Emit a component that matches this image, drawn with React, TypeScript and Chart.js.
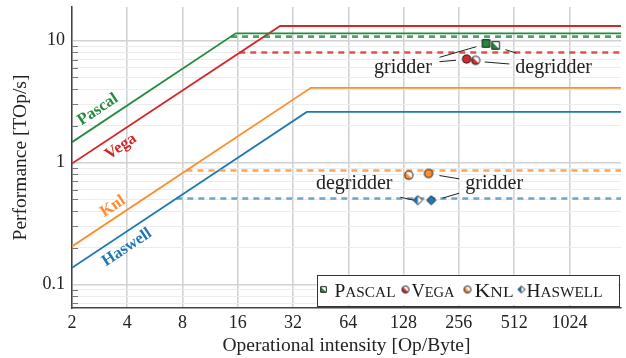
import React, { useEffect, useRef } from 'react';
import { Chart, registerables } from 'chart.js';
Chart.register(...registerables);

// ---- axis ticks ----
const xTicks = [2, 4, 8, 16, 32, 64, 128, 256, 512, 1024];
const xMin = 2;
const xMax = 1956;
const yMin = 0.064;
const yMax = 18.9;
const yMajor = [0.1, 1, 10];
const yMinor = [0.07, 0.08, 0.09, 0.2, 0.3, 0.4, 0.5, 0.6, 0.7, 0.8, 0.9, 2, 3, 4, 5, 6, 7, 8, 9];

// ---- platforms ----
const platforms = ['Pascal', 'Vega', 'Knl', 'Haswell'];
const colors = ['#238b3c', '#d62728', '#ff8c2e', '#1f77b4'];
const dashColors = ['rgba(35,139,60,0.8)', 'rgba(214,39,40,0.8)', 'rgba(255,140,46,0.8)', 'rgba(31,119,180,0.65)'];

// roofline vertices (x = Op/Byte, y = TOp/s)
const pascalRoofX = [2, 15.6, 1956];
const pascalRoofY = [1.47, 11.5, 11.5];
const vegaRoofX = [2, 27.2, 1956];
const vegaRoofY = [0.98, 13.2, 13.2];
const knlRoofX = [2, 40, 1956];
const knlRoofY = [0.205, 4.1, 4.1];
const haswellRoofX = [2, 38, 1956];
const haswellRoofY = [0.137, 2.6, 2.6];

// dashed attainable ceilings
const pascalDashX = [14.7, 1956];
const pascalDashY = [10.8, 10.8];
const vegaDashX = [16.3, 1956];
const vegaDashY = [8.0, 8.0];
const knlDashX = [8.4, 1956];
const knlDashY = [0.86, 0.86];
const haswellDashX = [7.4, 1956];
const haswellDashY = [0.507, 0.507];

// measured kernels
const gridderX = [360, 282, 175, 181];
const gridderY = [9.5, 7.08, 0.813, 0.491];
const degridderX = [406, 316, 136.5, 153];
const degridderY = [9.15, 6.9, 0.787, 0.491];

// annotation texts
const annText = ['gridder', 'degridder', 'degridder', 'gridder'];
const annX = [127, 840, 68.9, 399];
const annY = [6.0, 6.0, 0.669, 0.669];

// leader lines
const leaderX = [[200.7, 319], [200.7, 246.7], [353.6, 482], [459, 524], [123, 145.3], [200.7, 257], [208.4, 257]];
const leaderY = [[7.3, 8.93], [6.73, 6.9], [6.69, 6.44], [8.44, 7.93], [0.519, 0.491], [0.782, 0.735], [0.51, 0.56]];

// roofline labels
const roofLabelX = [2.77, 3.69, 3.34, 3.98];
const roofLabelY = [2.72, 1.35, 0.436, 0.2008];

const shapes = ['rect', 'circle', 'circle', 'diamond'];

const SERIF = '"Liberation Serif", "Times New Roman", serif';

// legend layout (pixel offsets inside the legend box)
const legendMarkerOff = [7, 89, 151, 205];
const legendTextOff = [18, 95, 158, 210];
const legendTextW = [61, 43, 39, 76];

function shapePath(g: CanvasRenderingContext2D, shape: string, cx: number, cy: number, h: number) {
  g.beginPath();
  if (shape === 'rect') g.rect(cx - h, cy - h, 2 * h, 2 * h);
  else if (shape === 'circle') g.arc(cx, cy, h, 0, Math.PI * 2);
  else {
    g.moveTo(cx, cy - h);
    g.lineTo(cx + h, cy);
    g.lineTo(cx, cy + h);
    g.lineTo(cx - h, cy);
    g.closePath();
  }
}

function makeMarker(shape: string, color: string, h: number, half: boolean) {
  const c = document.createElement('canvas');
  const s = Math.ceil(h * 2 + 3);
  c.width = s;
  c.height = s;
  const g = c.getContext('2d')!;
  const cx = s / 2, cy = s / 2;
  shapePath(g, shape, cx, cy, h);
  g.fillStyle = half ? '#ffffff' : color;
  g.fill();
  if (half) {
    g.save();
    shapePath(g, shape, cx, cy, h);
    g.clip();
    g.beginPath();
    if (shape === 'diamond') {
      g.rect(0, 0, cx, s);
    } else {
      g.moveTo(0, 0);
      g.lineTo(0, s);
      g.lineTo(s, s);
      g.closePath();
    }
    g.fillStyle = color;
    g.fill();
    g.restore();
  }
  shapePath(g, shape, cx, cy, h);
  g.strokeStyle = '#1a1a1a';
  g.lineWidth = 1;
  g.stroke();
  return c;
}

const markerSize = [3.8, 4.1, 4.1, 4.6];

let legendMarkers: HTMLCanvasElement[] = [];

const overlayPlugin = {
  id: 'overlay',
  afterDatasetsDraw(chart: any) {
    const { ctx, chartArea, scales } = chart;
    const xs = scales.x, ys = scales.y;
    ctx.save();
    // inward minor ticks on y axis
    ctx.strokeStyle = '#777';
    ctx.lineWidth = 1;
    for (const v of yMinor) {
      const py = Math.round(ys.getPixelForValue(v)) + 0.5;
      ctx.beginPath();
      ctx.moveTo(chartArea.left, py);
      ctx.lineTo(chartArea.left + 6, py);
      ctx.stroke();
    }
    // roofline labels
    const p1x = xs.getPixelForValue(2), p1y = ys.getPixelForValue(1);
    const p2x = xs.getPixelForValue(4), p2y = ys.getPixelForValue(2);
    const ang = Math.atan2(p2y - p1y, p2x - p1x);
    ctx.font = `bold 16.5px ${SERIF}`;
    ctx.textAlign = 'center';
    ctx.textBaseline = 'middle';
    platforms.forEach((p, i) => {
      const px = xs.getPixelForValue(roofLabelX[i]);
      const py = ys.getPixelForValue(roofLabelY[i]);
      ctx.save();
      ctx.translate(px, py);
      ctx.rotate(ang);
      ctx.fillStyle = colors[i];
      ctx.fillText(p, 0, 0);
      ctx.restore();
    });
    // annotation texts
    ctx.font = `20px ${SERIF}`;
    ctx.fillStyle = '#222';
    annText.forEach((t, i) => {
      ctx.fillText(t, xs.getPixelForValue(annX[i]), ys.getPixelForValue(annY[i]));
    });
    ctx.restore();
  },
  afterDraw(chart: any) {
    const { ctx, chartArea } = chart;
    const right = chartArea.right - 2.5;
    const bottom = chartArea.bottom - 3;
    const w = 302, h = 30.5;
    const left = right - w, top = bottom - h;
    ctx.save();
    ctx.fillStyle = '#fff';
    ctx.fillRect(left, top, w, h);
    ctx.strokeStyle = '#333';
    ctx.lineWidth = 1;
    ctx.strokeRect(Math.round(left) + 0.5, Math.round(top) + 0.5, Math.round(w), Math.round(h));
    const big = 19, small = 15;
    const baseline = top + 22;
    const my = top + 15;
    ctx.textBaseline = 'alphabetic';
    ctx.textAlign = 'left';
    platforms.forEach((p, i) => {
      const m = legendMarkers[i];
      ctx.drawImage(m, left + legendMarkerOff[i] - m.width / 2, my - m.height / 2);
      const rest = p.slice(1).toUpperCase();
      // natural width
      ctx.font = `${big}px ${SERIF}`;
      const w0 = ctx.measureText(p[0]).width;
      ctx.font = `${small}px ${SERIF}`;
      let wr = 0;
      for (const ch of rest) wr += ctx.measureText(ch).width;
      const natural = w0 + wr;
      const sx = legendTextW[i] / natural;
      ctx.save();
      ctx.translate(left + legendTextOff[i], baseline);
      ctx.scale(sx, 1);
      ctx.fillStyle = '#1a1a1a';
      ctx.font = `${big}px ${SERIF}`;
      ctx.fillText(p[0], 0, 0);
      let x = w0;
      ctx.font = `${small}px ${SERIF}`;
      for (const ch of rest) {
        ctx.fillText(ch, x, 0);
        x += ctx.measureText(ch).width;
      }
      ctx.restore();
    });
    ctx.restore();
  },
};

export default function App() {
  const ref = useRef<HTMLCanvasElement>(null);
  useEffect(() => {
    document.body.style.margin = '0';
    const canvas = ref.current!;
    const fullMarkers = platforms.map((_, i) => makeMarker(shapes[i], colors[i], markerSize[i], false));
    const halfMarkers = platforms.map((_, i) => makeMarker(shapes[i], colors[i], markerSize[i], true));
    legendMarkers = platforms.map((_, i) => makeMarker(shapes[i], colors[i], shapes[i] === 'rect' ? 2.8 : 3.5, true));

    const roofX = [pascalRoofX, vegaRoofX, knlRoofX, haswellRoofX];
    const roofY = [pascalRoofY, vegaRoofY, knlRoofY, haswellRoofY];
    const dashX = [pascalDashX, vegaDashX, knlDashX, haswellDashX];
    const dashY = [pascalDashY, vegaDashY, knlDashY, haswellDashY];

    const datasets: any[] = [];
    platforms.forEach((p, i) => {
      datasets.push({
        type: 'scatter',
        label: p + ' gridder',
        data: [{ x: gridderX[i], y: gridderY[i] }],
        pointStyle: fullMarkers[i],
      });
      datasets.push({
        type: 'scatter',
        label: p + ' degridder',
        data: [{ x: degridderX[i], y: degridderY[i] }],
        pointStyle: halfMarkers[i],
      });
    });
    leaderX.forEach((lx, i) => {
      datasets.push({
        type: 'line',
        label: 'leader' + i,
        data: lx.map((v, j) => ({ x: v, y: leaderY[i][j] })),
        borderColor: '#222',
        borderWidth: 1,
        pointRadius: 0,
      });
    });
    platforms.forEach((p, i) => {
      datasets.push({
        type: 'line',
        label: p + ' dashed',
        data: dashX[i].map((v, j) => ({ x: v, y: dashY[i][j] })),
        borderColor: dashColors[i],
        borderWidth: 2.7,
        borderDash: [6, 5],
        pointRadius: 0,
      });
    });
    platforms.forEach((p, i) => {
      datasets.push({
        type: 'line',
        label: p + ' roofline',
        data: roofX[i].map((v, j) => ({ x: v, y: roofY[i][j] })),
        borderColor: colors[i],
        borderWidth: 1.8,
        pointRadius: 0,
      });
    });

    const majorSet = new Set(yMajor);
    const chart = new Chart(canvas, {
      type: 'scatter',
      data: { datasets },
      options: {
        animation: false,
        responsive: false,
        devicePixelRatio: 1,
        layout: { padding: { top: 7, right: 0, left: 0, bottom: 0 } },
        plugins: { legend: { display: false }, tooltip: { enabled: false } },
        scales: {
          x: {
            type: 'logarithmic',
            min: xMin,
            max: xMax,
            afterBuildTicks: (s: any) => {
              s.ticks = xTicks.map((v) => ({ value: v }));
            },
            afterFit: (s: any) => {
              s.height = 50;
              s.paddingLeft = 0;
              s.paddingRight = 0;
            },
            ticks: {
              autoSkip: false,
              maxRotation: 0,
              padding: 4,
              color: '#222',
              font: { family: SERIF, size: 18 },
              callback: (v: any) => String(v),
            },
            grid: { color: '#d2d2d2', lineWidth: 1.6, drawTicks: false },
            border: { display: true, color: '#444', width: 1.5 },
            title: {
              display: true,
              text: 'Operational intensity [Op/Byte]',
              color: '#222',
              font: { family: SERIF, size: 19.5 },
              padding: { top: 0, bottom: 0 },
            },
          },
          y: {
            type: 'logarithmic',
            min: yMin,
            max: yMax,
            afterBuildTicks: (s: any) => {
              s.ticks = [...yMajor, ...yMinor].sort((a, b) => a - b).map((v) => ({ value: v, major: majorSet.has(v) }));
            },
            afterFit: (s: any) => {
              s.width = 72;
              s.paddingTop = 0;
              s.paddingBottom = 0;
            },
            ticks: {
              autoSkip: false,
              padding: 7,
              color: '#222',
              font: { family: SERIF, size: 18 },
              callback: (v: any) => (majorSet.has(Number(v)) ? String(v) : ''),
            },
            grid: {
              color: (c: any) => (c.tick && majorSet.has(c.tick.value) ? '#d2d2d2' : '#ececec'),
              lineWidth: (c: any) => (c.tick && majorSet.has(c.tick.value) ? 1.6 : 1),
              drawTicks: false,
            },
            border: { display: true, color: '#444', width: 1.5 },
            title: {
              display: true,
              text: 'Performance [TOp/s]',
              color: '#222',
              font: { family: SERIF, size: 19.5 },
              padding: { top: 9, bottom: 0 },
            },
          },
        },
      } as any,
      plugins: [overlayPlugin],
    });
    return () => chart.destroy();
  }, []);
  return <canvas ref={ref} width={626} height={358} style={{ display: 'block' }} />;
}
